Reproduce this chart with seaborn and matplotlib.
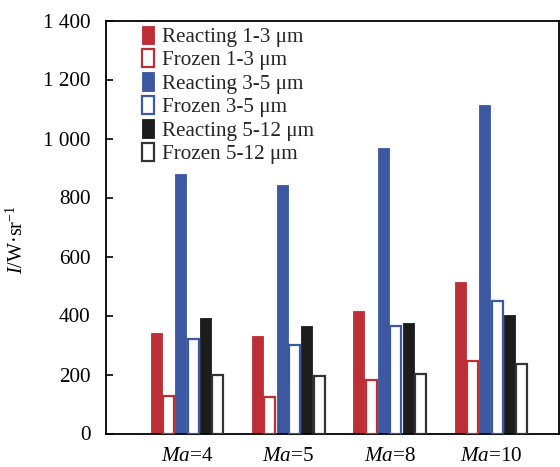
import numpy as np
import pandas as pd
import matplotlib
matplotlib.use('Agg')
import matplotlib.pyplot as plt
import seaborn as sns
from matplotlib.patches import Rectangle

categories = ['Ma=4', 'Ma=5', 'Ma=8', 'Ma=10']
tick_labels = [r'$Ma$=4', r'$Ma$=5', r'$Ma$=8', r'$Ma$=10']
series_names = ['Reacting 1-3 μm', 'Frozen 1-3 μm', 'Reacting 3-5 μm',
                'Frozen 3-5 μm', 'Reacting 5-12 μm', 'Frozen 5-12 μm']
reacting_1_3 = [341, 331, 415, 513]
frozen_1_3 = [126, 123, 180, 247]
reacting_3_5 = [879, 842, 967, 1112]
frozen_3_5 = [319, 299, 366, 448]
reacting_5_12 = [390, 366, 374, 403]
frozen_5_12 = [199, 194, 203, 234]
y_ticks = [0, 200, 400, 600, 800, 1000, 1200, 1400]
y_tick_labels = ['0', '200', '400', '600', '800', '1 000', '1 200', '1 400']

series_values = [reacting_1_3, frozen_1_3, reacting_3_5, frozen_3_5, reacting_5_12, frozen_5_12]
rows = []
for name, vals in zip(series_names, series_values):
    for c, v in zip(categories, vals):
        rows.append({'cat': c, 'series': name, 'value': v})
df = pd.DataFrame(rows)

sns.set_theme(style='white')
plt.rcParams['font.family'] = ['Liberation Serif', 'DejaVu Serif']
plt.rcParams['mathtext.fontset'] = 'custom'
plt.rcParams['mathtext.rm'] = 'Liberation Serif'
plt.rcParams['mathtext.it'] = 'Liberation Serif:italic'

red = '#BE2E37'
blue = '#3B58A0'
black = '#1C1C1C'
colors = [red, red, blue, blue, black, '#333333']
filled = [True, False, True, False, True, False]

fig = plt.figure(figsize=(5.6, 4.67), dpi=100)
ax = fig.add_axes([106/560, 1 - 433.5/467, (559-106)/560, (433.5-20.5)/467])

sns.barplot(data=df, x='cat', y='value', hue='series', order=categories,
            hue_order=series_names, palette=colors, width=0.73,
            saturation=1, ax=ax, legend=False)

shrink = 0.012
for cont, col, fil in zip(ax.containers, colors, filled):
    for p in cont.patches:
        w = p.get_width()
        p.set_x(p.get_x() + shrink / 2)
        p.set_width(w - shrink)
        if fil:
            p.set_facecolor(col)
            p.set_edgecolor(col)
            p.set_linewidth(0.6)
        else:
            p.set_facecolor('white')
            p.set_edgecolor(col)
            p.set_linewidth(1.6)
            p.set_zorder(3)

handles = []
for col, fil in zip(colors, filled):
    if fil:
        handles.append(Rectangle((0, 0), 1, 1, facecolor=col, edgecolor=col, linewidth=0.6))
    else:
        handles.append(Rectangle((0, 0), 1, 1, facecolor='white', edgecolor=col, linewidth=1.6))
ax.legend(handles, series_names, loc='upper left', bbox_to_anchor=(0.07, 0.998),
          frameon=False, fontsize=15.2, handlelength=0.55, handleheight=0.95,
          handletextpad=0.4, labelspacing=0.1, borderpad=0.2, borderaxespad=0)

ax.set_xlim(-0.8, 3.67)
ax.set_ylim(0, 1400)
ax.set_yticks(y_ticks)
ax.set_yticklabels(y_tick_labels)
ax.set_xticks(range(len(categories)))
ax.set_xticklabels(tick_labels)
ax.tick_params(axis='y', direction='in', length=5, width=1.2, pad=11, labelsize=15.2,
               left=True, colors='black')
ax.tick_params(axis='x', length=0, pad=10, labelsize=15.2, colors='black')
ax.set_xlabel('')
ax.set_ylabel(r'$I$/W·sr$^{-1}$', fontsize=14.5, color='black')
ax.yaxis.set_label_coords(-0.172, 0.47)
for s in ax.spines.values():
    s.set_visible(True)
    s.set_color('black')
    s.set_linewidth(1.3)

fig.savefig('out.png', dpi=100)
